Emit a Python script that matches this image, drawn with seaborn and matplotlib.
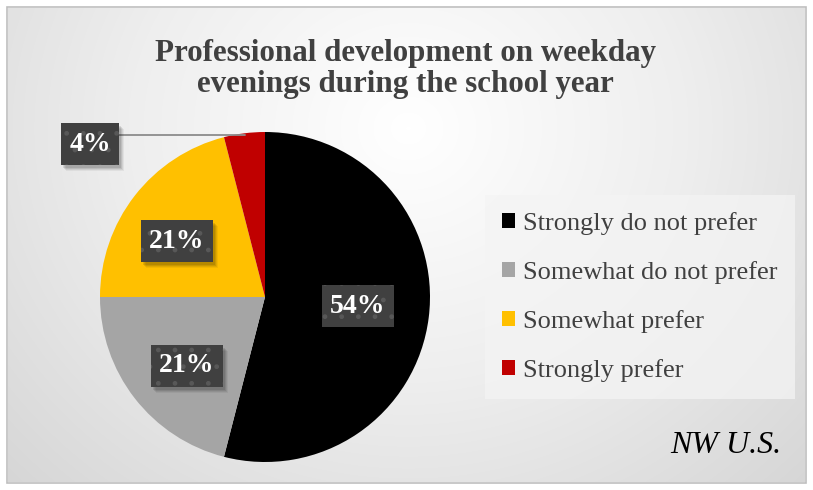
import numpy as np
import matplotlib
matplotlib.use("Agg")
import matplotlib.pyplot as plt
import seaborn as sns
from matplotlib.patches import Rectangle, Patch
from matplotlib.colors import LinearSegmentedColormap

# Survey responses
categories = ["Strongly do not prefer", "Somewhat do not prefer",
              "Somewhat prefer", "Strongly prefer"]
shares = [54, 21, 21, 4]
slice_colors = ["#000000", "#a5a5a5", "#ffc000", "#c00000"]
title_text = "Professional development on weekday\nevenings during the school year"
region_text = "NW U.S."

sns.set_theme(style="white")
plt.rcParams["font.family"] = ["Liberation Serif", "DejaVu Serif"]

W, H = 813, 490
fig = plt.figure(figsize=(W / 100, H / 100), dpi=100)
fig.patch.set_facecolor("white")

# Soft radial backdrop inside the chart frame
bg = fig.add_axes([8 / W, 8 / H, (W - 16) / W, (H - 16) / H], zorder=0)
yy, xx = np.mgrid[0:H - 16, 0:W - 16]
cx, cy = 400, 120
r = np.sqrt((xx - cx) ** 2 + ((yy - cy) * 1.1) ** 2)
r = np.clip(r / 560, 0, 1)
cmap = LinearSegmentedColormap.from_list("bg", ["#ffffff", "#eeeeee", "#d6d6d6"])
bg.imshow(r, cmap=cmap, vmin=0, vmax=1, aspect="auto", interpolation="bilinear")
bg.set_axis_off()
fig.add_artist(Rectangle((7 / W, 7 / H), (W - 14) / W, (H - 14) / H,
                         transform=fig.transFigure, fill=False,
                         edgecolor="#bfbfbf", linewidth=1.2, zorder=1))

# Pie axes: radius 165 px centred at (265, 297)
pcx, pcy, pr = 265, 297, 165
ax = fig.add_axes([(pcx - pr) / W, (H - pcy - pr) / H, 2 * pr / W, 2 * pr / H], zorder=2)
ax.pie(shares, colors=slice_colors, startangle=90, counterclock=False,
       radius=1.0, wedgeprops=dict(linewidth=0))
ax.set_xlim(-1, 1)
ax.set_ylim(-1, 1)
ax.set_aspect("equal")
ax.set_axis_off()

# Value labels in dark patterned boxes
label_pos = [(0.564, -0.055), (-0.473, -0.418), (-0.533, 0.339), (-1.06, 0.927)]
box = dict(boxstyle="square,pad=0.3", fc="#404040", ec="#585858", lw=0, hatch=".")
value_labels = []
for val, (x, y) in zip(shares, label_pos):
    value_labels.append(
        ax.text(x, y, f"{val}%", ha="center", va="center", fontsize=20,
                fontweight="bold", color="white", bbox=box, zorder=5,
                clip_on=False))

# Leader line for the small slice (last slice, just left of 12 o'clock)
mid = np.deg2rad(90 + 360 * (shares[3] / 2) / 100)
ex, ey = np.cos(mid) * 0.99, np.sin(mid) * 0.99
ax.plot([label_pos[3][0] + 0.17, ex], [ey, ey], color="#8c8c8c", lw=1.3,
        zorder=3, clip_on=False)

# Title
fig.text(405 / W, 1 - 69 / H, title_text, ha="center", va="center",
         fontsize=22.3, fontweight="bold", color="#404040", linespacing=1.12)

# Legend
handles = [Patch(facecolor=c, edgecolor="none", label=l)
           for c, l in zip(slice_colors, categories)]
leg = fig.legend(handles=handles, loc="upper left",
                 bbox_to_anchor=(485 / W, 1 - 195 / H),
                 frameon=True, fontsize=19, labelcolor="#404040",
                 handlelength=0.5, handleheight=0.5, handletextpad=0.3,
                 labelspacing=0.98, borderpad=0.65, borderaxespad=0)
frame = leg.get_frame()
frame.set_facecolor("#f4f4f4")
frame.set_alpha(0.75)
frame.set_edgecolor("none")
frame.set_boxstyle("square", pad=0)

fig.text(726 / W, 1 - 445 / H, region_text, ha="center", va="center",
         fontsize=23, fontstyle="italic", color="#000000")

# Soft drop shadows behind the label boxes (below the labels, above the pie)
fig.canvas.draw()
for t in value_labels:
    ext = t.get_bbox_patch().get_window_extent()
    for k, a in ((6, 0.05), (5, 0.07), (4, 0.09), (3, 0.1)):
        ax.add_patch(Rectangle(((ext.x0 + k - 1) / W, (ext.y0 - k) / H),
                               ext.width / W, ext.height / H,
                               transform=fig.transFigure, facecolor="black",
                               edgecolor="none", alpha=a, zorder=4,
                               clip_on=False))

fig.savefig("out.png", dpi=100)
